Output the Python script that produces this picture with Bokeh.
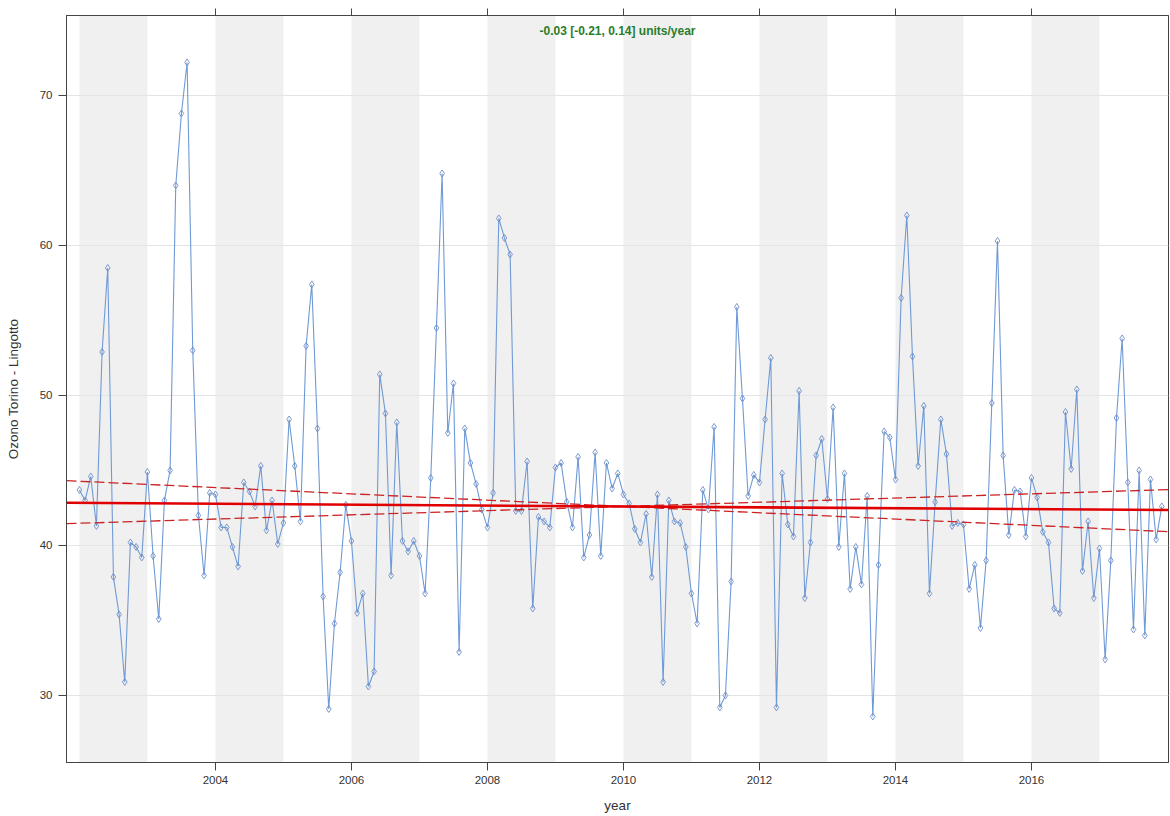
from bokeh.plotting import figure
from bokeh.models import (Range1d, FixedTicker, LinearAxis, BoxAnnotation,
                          Label, ColumnDataSource)
from bokeh.embed import file_html
from bokeh.resources import INLINE

# Monthly mean ozone, Torino - Lingotto, Jan 2002 .. Dec 2017
start_year = 2002
monthly_o3 = [
    43.7, 43.0, 44.6, 41.3, 52.9, 58.5, 37.9, 35.4, 30.9, 40.2, 39.9, 39.2,  # 2002
    44.9, 39.3, 35.1, 43.0, 45.0, 64.0, 68.8, 72.2, 53.0, 42.0, 38.0, 43.5,  # 2003
    43.4, 41.2, 41.2, 39.9, 38.6, 44.2, 43.6, 42.6, 45.3, 41.0, 43.0, 40.1,  # 2004
    41.5, 48.4, 45.3, 41.6, 53.3, 57.4, 47.8, 36.6, 29.1, 34.8, 38.2, 42.7,  # 2005
    40.3, 35.5, 36.8, 30.6, 31.6, 51.4, 48.8, 38.0, 48.2, 40.3, 39.6, 40.3,  # 2006
    39.3, 36.8, 44.5, 54.5, 64.8, 47.5, 50.8, 32.9, 47.8, 45.5, 44.1, 42.4,  # 2007
    41.2, 43.5, 61.8, 60.5, 59.4, 42.3, 42.3, 45.6, 35.8, 41.9, 41.6, 41.2,  # 2008
    45.2, 45.5, 42.9, 41.2, 45.9, 39.2, 40.7, 46.2, 39.3, 45.5, 43.8, 44.8,  # 2009
    43.4, 42.8, 41.1, 40.2, 42.1, 37.9, 43.4, 30.9, 43.0, 41.6, 41.5, 39.9,  # 2010
    36.8, 34.8, 43.7, 42.4, 47.9, 29.2, 30.0, 37.6, 55.9, 49.8, 43.3, 44.7,  # 2011
    44.2, 48.4, 52.5, 29.2, 44.8, 41.4, 40.6, 50.3, 36.5, 40.2, 46.0, 47.1,  # 2012
    43.1, 49.2, 39.9, 44.8, 37.1, 39.9, 37.4, 43.3, 28.6, 38.7, 47.6, 47.2,  # 2013
    44.4, 56.5, 62.0, 52.6, 45.3, 49.3, 36.8, 42.9, 48.4, 46.1, 41.3, 41.5,  # 2014
    41.4, 37.1, 38.7, 34.5, 39.0, 49.5, 60.3, 46.0, 40.7, 43.7, 43.6, 40.6,  # 2015
    44.5, 43.2, 40.9, 40.2, 35.8, 35.5, 48.9, 45.1, 50.4, 38.3, 41.6, 36.5,  # 2016
    39.8, 32.4, 39.0, 48.5, 53.8, 44.2, 34.4, 45.0, 34.0, 44.4, 40.4, 42.6,  # 2017
]

# Theil-Sen slope and its confidence interval (units/year)
trend_slope = -0.03
trend_lower = -0.21
trend_upper = 0.14
pivot_year = 2010.0
pivot_level = 42.6

x_ticks = [2004, 2006, 2008, 2010, 2012, 2014, 2016]
y_ticks = [30, 40, 50, 60, 70]
shaded_years = [2002, 2004, 2006, 2008, 2010, 2012, 2014, 2016]

x_start, x_end = 2001.81, 2018.015
y_start, y_end = 25.53, 75.33

decimal_time = [start_year + i / 12.0 for i in range(len(monthly_o3))]
src = ColumnDataSource(dict(t=decimal_time, o3=monthly_o3))

FONT = "Liberation Sans"
AXIS_COL = "#444444"
TXT_COL = "#333333"

p = figure(width=1170, height=816, output_backend="svg", toolbar_location=None,
           x_range=Range1d(x_start, x_end), y_range=Range1d(y_start, y_end),
           min_border_left=66, min_border_right=2, min_border_top=15,
           min_border_bottom=54)
p.outline_line_color = AXIS_COL
p.outline_line_width = 1
p.background_fill_color = "white"

# alternating year shading
for yr in shaded_years:
    p.add_layout(BoxAnnotation(left=yr, right=yr + 1, fill_color="#f0f0f0",
                               fill_alpha=1.0, line_color=None, level="image"))

p.xgrid.visible = False
p.ygrid.ticker = FixedTicker(ticks=y_ticks)
p.ygrid.grid_line_color = "#e4e4e4"
p.ygrid.grid_line_width = 1

# axes
for ax in (p.xaxis[0], p.yaxis[0]):
    ax.axis_line_color = AXIS_COL
    ax.major_tick_line_color = AXIS_COL
    ax.major_tick_out = 8
    ax.major_tick_in = 0
    ax.minor_tick_line_color = None
    ax.major_label_text_font = FONT
    ax.major_label_text_font_size = "11.5px"
    ax.major_label_text_color = TXT_COL
    ax.axis_label_text_font = FONT
    ax.axis_label_text_font_size = "13.5px"
    ax.axis_label_text_font_style = "normal"
    ax.axis_label_text_color = TXT_COL

p.xaxis.ticker = FixedTicker(ticks=x_ticks)
p.xaxis.axis_label = "year"
p.xaxis.major_label_standoff = 5
p.xaxis.axis_label_standoff = 11

p.yaxis.ticker = FixedTicker(ticks=y_ticks)
p.yaxis.axis_label = "Ozono Torino - Lingotto"
p.yaxis.major_label_standoff = 6
p.yaxis.axis_label_standoff = 16

# tick marks only along the top edge (no labels drawn)
top_axis = LinearAxis(ticker=FixedTicker(ticks=x_ticks))
top_axis.axis_line_color = AXIS_COL
top_axis.major_tick_line_color = AXIS_COL
top_axis.major_tick_out = 7
top_axis.major_tick_in = 0
top_axis.minor_tick_line_color = None
top_axis.major_label_text_font_size = "1px"
top_axis.major_label_text_color = None
top_axis.major_label_standoff = 0
p.add_layout(top_axis, "above")

# monthly series
p.line("t", "o3", source=src, line_color="#6f9ad6", line_width=1.1)
p.scatter("t", "o3", source=src, marker="diamond", size=7,
          line_color="#6f8fc8", line_width=0.9, fill_color=None)

# trend line and confidence limits
xs = [x_start, x_end]
def trend(slope):
    return [pivot_level + slope * (x - pivot_year) for x in xs]

p.line(xs, trend(trend_lower), line_color="#cc2222", line_width=1.3, line_dash="10 4")
p.line(xs, trend(trend_upper), line_color="#cc2222", line_width=1.3, line_dash="10 4")
p.line(xs, trend(trend_slope), line_color="#e00000", line_width=2.6)

label = Label(x=(x_start + x_end) / 2, y=y_end - 1.0,
              text=f"{trend_slope:.2f} [{trend_lower:.2f}, {trend_upper:.2f}] units/year",
              text_font=FONT, text_font_size="12px", text_font_style="bold",
              text_color="#2a7d2a", text_align="center", text_baseline="middle")
p.add_layout(label)

open("out.html", "w").write(file_html(p, INLINE))
